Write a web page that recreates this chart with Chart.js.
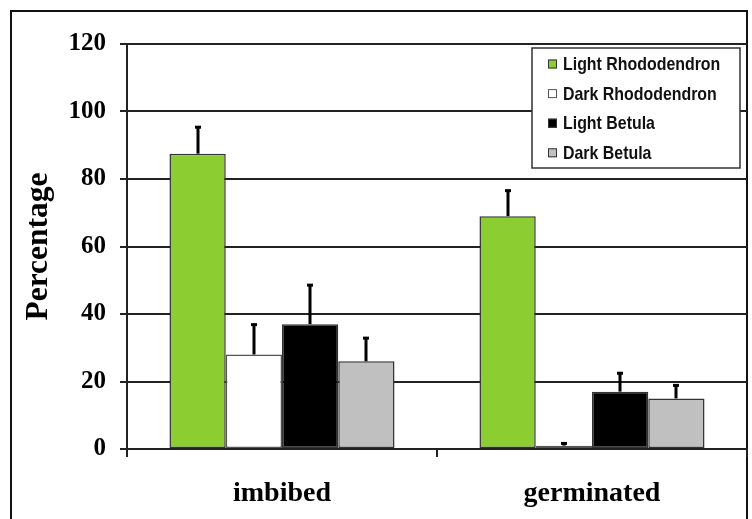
<!DOCTYPE html>
<html>
<head>
<meta charset="utf-8">
<script src="https://cdn.jsdelivr.net/npm/chart.js@4.4.1/dist/chart.umd.min.js"></script>
<style>
  html, body { margin: 0; padding: 0; background: #fff; }
</style>
</head>
<body>
<canvas id="seedChart" width="752" height="519"></canvas>
<script>
const STAGES = ["imbibed", "germinated"];
const SERIES_NAMES = ["Light Rhododendron", "Dark Rhododendron", "Light Betula", "Dark Betula"];
const LIGHT_RHODO = [87.5, 69];
const DARK_RHODO = [28, 1];
const LIGHT_BETULA = [37, 17];
const DARK_BETULA = [26, 15];
const LIGHT_RHODO_ERR = [8, 7.7];
const DARK_RHODO_ERR = [9, 0.8];
const LIGHT_BETULA_ERR = [11.7, 5.6];
const DARK_BETULA_ERR = [7, 4];
const Y_MIN = 0, Y_MAX = 120, Y_STEP = 20;

const FILLS = ["#8cce32", "#ffffff", "#000000", "#c0c0c0"];
const SERIF = '"Liberation Serif", "Times New Roman", serif';
const SANS = '"Liberation Sans", Arial, sans-serif';

// white page + outer frame of the figure
const framePlugin = {
  id: "frame",
  beforeDraw(chart) {
    const ctx = chart.ctx;
    ctx.save();
    ctx.fillStyle = "#fff";
    ctx.fillRect(0, 0, chart.width, chart.height);
    ctx.strokeStyle = "#111";
    ctx.lineWidth = 2;
    ctx.beginPath();
    ctx.moveTo(11, chart.height + 5);
    ctx.lineTo(11, 11);
    ctx.lineTo(747, 11);
    ctx.lineTo(747, chart.height + 5);
    ctx.stroke();
    ctx.restore();
  }
};

// upward-only error bars
const errorBars = {
  id: "errorBars",
  afterDatasetsDraw(chart) {
    const ctx = chart.ctx;
    const yScale = chart.scales.y;
    ctx.save();
    ctx.fillStyle = "#000";
    chart.data.datasets.forEach((ds, i) => {
      const meta = chart.getDatasetMeta(i);
      meta.data.forEach((bar, j) => {
        const top = yScale.getPixelForValue(ds.data[j] + ds.errors[j]);
        ctx.fillRect(Math.round(bar.x) - 1.5, top, 3, bar.y - top);
        ctx.fillRect(Math.round(bar.x) - 3, top - 1, 6, 3);
      });
    });
    ctx.restore();
  }
};

// boxed legend drawn over the grid, like the original figure
const boxLegend = {
  id: "boxLegend",
  afterDraw(chart) {
    const ctx = chart.ctx;
    const left = 532, top = 48, w = 208, h = 120, rowH = 29.6;
    ctx.save();
    ctx.fillStyle = "#fff";
    ctx.fillRect(left, top, w, h);
    ctx.strokeStyle = "#333";
    ctx.lineWidth = 1.5;
    ctx.strokeRect(left, top, w, h);
    ctx.font = "bold 18.5px " + SANS;
    ctx.textBaseline = "middle";
    chart.data.datasets.forEach((ds, i) => {
      const cy = top + 16 + i * rowH;
      ctx.fillStyle = ds.backgroundColor;
      ctx.fillRect(548, cy - 4.5, 9, 9);
      ctx.strokeStyle = i === 1 ? "#555" : "#333";
      ctx.lineWidth = 1;
      ctx.strokeRect(548.5, cy - 4, 8, 8);
      // the original legend type is condensed
      ctx.save();
      ctx.translate(563, cy + 1);
      ctx.scale(0.86, 1);
      ctx.fillStyle = "#111";
      ctx.fillText(ds.label, 0, 0);
      ctx.restore();
    });
    ctx.restore();
  }
};

function makeDataset(i, values, errors) {
  return {
    label: SERIES_NAMES[i],
    data: values,
    errors: errors,
    backgroundColor: FILLS[i],
    borderColor: i === 1 ? "#555" : "#333",
    borderWidth: 1.5,
    borderSkipped: false,
    categoryPercentage: 0.726,
    barPercentage: 1.0
  };
}

new Chart(document.getElementById("seedChart"), {
  type: "bar",
  data: {
    labels: STAGES,
    datasets: [
      makeDataset(0, LIGHT_RHODO, LIGHT_RHODO_ERR),
      makeDataset(1, DARK_RHODO, DARK_RHODO_ERR),
      makeDataset(2, LIGHT_BETULA, LIGHT_BETULA_ERR),
      makeDataset(3, DARK_BETULA, DARK_BETULA_ERR)
    ]
  },
  options: {
    responsive: false,
    animation: false,
    layout: { padding: { top: 44, right: 5, bottom: 0, left: 0 } },
    plugins: {
      legend: { display: false },
      tooltip: { enabled: false }
    },
    scales: {
      x: {
        afterFit: (scale) => { scale.height = 70; },
        grid: { offset: true, drawOnChartArea: false, drawTicks: true, tickLength: 8, color: "#222", lineWidth: 2 },
        border: { display: true, color: "#222", width: 2 },
        ticks: { color: "#000", padding: 20, maxRotation: 0, font: { family: SERIF, size: 28, weight: "bold" } }
      },
      y: {
        min: Y_MIN,
        max: Y_MAX,
        afterFit: (scale) => { scale.width = 127; },
        grid: { color: "#222", lineWidth: 2, tickLength: 7 },
        border: { display: true, color: "#222", width: 2 },
        ticks: { stepSize: Y_STEP, color: "#000", padding: 14, font: { family: SERIF, size: 25, weight: "bold" } },
        title: { display: true, text: "Percentage", color: "#000", padding: { top: 20 }, font: { family: SERIF, size: 31.5, weight: "bold" } }
      }
    }
  },
  plugins: [framePlugin, errorBars, boxLegend]
});
</script>
</body>
</html>
